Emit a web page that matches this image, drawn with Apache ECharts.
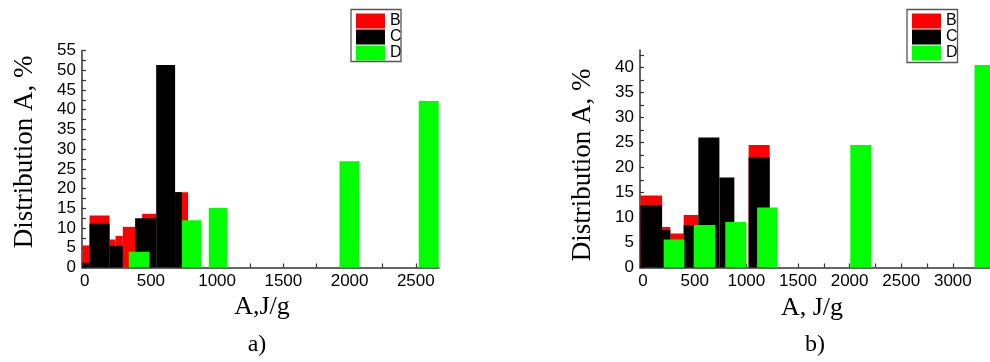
<!DOCTYPE html>
<html>
<head>
<meta charset="utf-8">
<script src="https://cdn.jsdelivr.net/npm/echarts@6/dist/echarts.min.js"></script>
<style>
html,body{margin:0;padding:0;background:#fff;}
#c{width:990px;height:362px;}
</style>
</head>
<body>
<div id="c"></div>
<script>
// ---- Data: [bin start (J/g), bin end (J/g), share (%)] ----
const seriesNames = ['B', 'C', 'D'];
const seriesColors = ['#ff0000', '#000000', '#00ff00'];

// Panel a)
const B_a = [[-16, 37, 5.6], [37, 188, 13.2], [188, 233, 7.1], [233, 288, 8.0], [288, 381, 10.3], [434, 540, 13.6], [683, 781, 19.1]];
const C_a = [[-16, 37, 1.2], [37, 188, 11.1], [188, 288, 5.5], [381, 540, 12.5], [540, 683, 51.3], [683, 734, 19.1]];
const D_a = [[333, 490, 4.0], [734, 882, 12.0], [937, 1078, 15.1], [1924, 2075, 26.9], [2522, 2673, 42.2]];

// Panel b)
const B_b = [[-26, 184, 14.4], [184, 264, 8.1], [264, 393, 6.8], [393, 535, 10.5], [1022, 1226, 24.5]];
const C_b = [[-26, 184, 12.5], [184, 264, 7.5], [393, 535, 8.5], [535, 739, 26.0], [739, 884, 18.0], [1022, 1226, 22.0]];
const D_b = [[199, 400, 5.6], [490, 700, 8.5], [796, 1000, 9.1], [1104, 1303, 12.0], [2007, 2210, 24.5], [3210, 3400, 40.5]];

// Tick values
const xTicksA = [0, 500, 1000, 1500, 2000, 2500];
const xMinorA = [0, 250, 500, 750, 1000, 1250, 1500, 1750, 2000, 2250, 2500];
const yTicksA = [0, 5, 10, 15, 20, 25, 30, 35, 40, 45, 50, 55];
const yMinorA = [0, 2.5, 5, 7.5, 10, 12.5, 15, 17.5, 20, 22.5, 25, 27.5, 30, 32.5, 35, 37.5, 40, 42.5, 45, 47.5, 50, 52.5, 55];
const xTicksB = [0, 500, 1000, 1500, 2000, 2500, 3000];
const xMinorB = [0, 250, 500, 750, 1000, 1250, 1500, 1750, 2000, 2250, 2500, 2750, 3000, 3250];
const yTicksB = [0, 5, 10, 15, 20, 25, 30, 35, 40];
const yMinorB = [0, 2.5, 5, 7.5, 10, 12.5, 15, 17.5, 20, 22.5, 25, 27.5, 30, 32.5, 35, 37.5, 40, 42.5];

const chart = echarts.init(document.getElementById('c'), null, {renderer: 'canvas'});

function renderItem(params, api) {
  const x0 = api.value(0), x1 = api.value(1), y = api.value(2);
  const p0 = api.coord([x0, y]);
  const p1 = api.coord([x1, 0]);
  const cs = params.coordSys;
  const r = echarts.graphic.clipRectByRect(
    {x: p0[0], y: p0[1], width: p1[0] - p0[0], height: p1[1] - p0[1]},
    {x: cs.x, y: cs.y, width: cs.width, height: cs.height}
  );
  if (!r) return null;
  return {type: 'rect', shape: r, style: {fill: api.visual('color')}};
}

const axisLineStyle = {color: '#333', width: 1.5};
const tickLabel = {color: '#000', fontSize: 17, fontFamily: 'Liberation Sans, Arial, sans-serif', formatter: v => String(v)};

function xAxis(grid, min, max, ticks, minor) {
  return {
    type: 'value', gridIndex: grid, min: min, max: max,
    axisLine: {show: true, onZero: false, lineStyle: axisLineStyle},
    axisTick: {show: true, inside: true, length: 4, customValues: minor, lineStyle: {color: '#333', width: 1.2}},
    axisLabel: Object.assign({customValues: ticks, margin: 5}, tickLabel),
    splitLine: {show: false}
  };
}
function yAxis(grid, min, max, ticks, minor) {
  return {
    type: 'value', gridIndex: grid, min: min, max: max,
    axisLine: {show: true, onZero: false, lineStyle: axisLineStyle},
    axisTick: {show: true, inside: true, length: 4, customValues: minor, lineStyle: {color: '#333', width: 1.2}},
    axisLabel: Object.assign({customValues: ticks, margin: 6}, tickLabel),
    splitLine: {show: false}
  };
}

const panels = [[B_a, C_a, D_a], [B_b, C_b, D_b]];
const series = [];
panels.forEach((sets, gi) => {
  sets.forEach((d, si) => {
    series.push({
      type: 'custom', name: seriesNames[si], xAxisIndex: gi, yAxisIndex: gi,
      renderItem: renderItem, itemStyle: {color: seriesColors[si]},
      encode: {x: [0, 1], y: 2}, data: d, silent: true
    });
  });
});

function legend(left, top) {
  return {
    left: left, top: top, padding: 0, orient: 'vertical', itemGap: 0,
    itemWidth: 29, itemHeight: 15, icon: 'rect', selectedMode: false,
    textStyle: {fontSize: 16, color: '#000', lineHeight: 15, fontFamily: 'Liberation Sans, Arial, sans-serif'},
    data: seriesNames
  };
}

const serif = 'Liberation Serif, Times New Roman, serif';

chart.setOption({
  animation: false,
  backgroundColor: '#fff',
  grid: [
    {left: 82, top: 50.5, width: 357, height: 217, outerBoundsMode: 'none'},
    {left: 640, top: 50, width: 350, height: 217.5, outerBoundsMode: 'none'}
  ],
  xAxis: [xAxis(0, -20, 2675, xTicksA, xMinorA), xAxis(1, -30, 3360, xTicksB, xMinorB)],
  yAxis: [yAxis(0, 0, 55, yTicksA, yMinorA), yAxis(1, 0, 43.5, yTicksB, yMinorB)],
  legend: [legend(356, 13), legend(912, 13)],
  series: series,
  graphic: [
    {type: 'rect', shape: {x: 351, y: 9.5, width: 50, height: 52}, style: {fill: null, stroke: '#555', lineWidth: 1.3}, z: 100},
    {type: 'rect', shape: {x: 907, y: 9.5, width: 50.5, height: 53}, style: {fill: null, stroke: '#555', lineWidth: 1.3}, z: 100},
    {type: 'text', x: 25, y: 152, rotation: Math.PI / 2,
     style: {text: 'Distribution A, %', font: '27px ' + serif, fill: '#000', textAlign: 'center', textVerticalAlign: 'middle'}},
    {type: 'text', x: 583, y: 165, rotation: Math.PI / 2,
     style: {text: 'Distribution A, %', font: '27px ' + serif, fill: '#000', textAlign: 'center', textVerticalAlign: 'middle'}},
    {type: 'text', x: 262, y: 307, style: {text: 'A,J/g', font: '26px ' + serif, fill: '#000', textAlign: 'center', textVerticalAlign: 'middle'}},
    {type: 'text', x: 812, y: 308, style: {text: 'A, J/g', font: '26px ' + serif, fill: '#000', textAlign: 'center', textVerticalAlign: 'middle'}},
    {type: 'text', x: 257, y: 345, style: {text: 'a)', font: '24px ' + serif, fill: '#000', textAlign: 'center', textVerticalAlign: 'middle'}},
    {type: 'text', x: 815, y: 345, style: {text: 'b)', font: '24px ' + serif, fill: '#000', textAlign: 'center', textVerticalAlign: 'middle'}}
  ]
});
</script>
</body>
</html>
